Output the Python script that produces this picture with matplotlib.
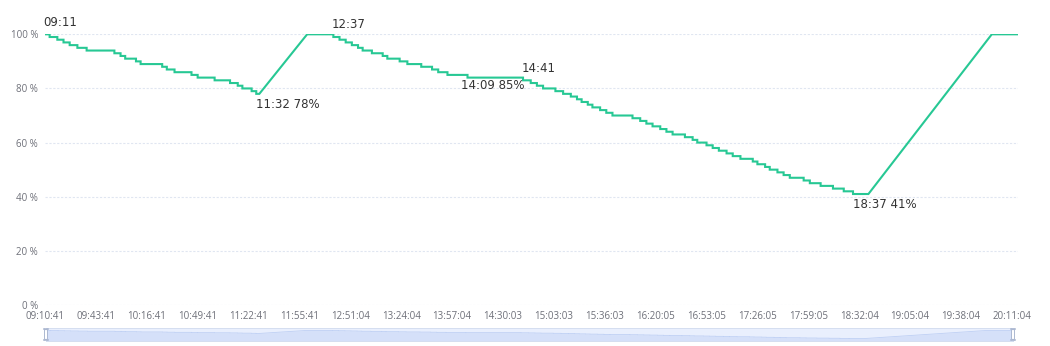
import matplotlib
matplotlib.use('Agg')
import matplotlib.pyplot as plt
from matplotlib.patches import FancyBboxPatch
import numpy as np

# x axis is a category axis: one sample per category, a label every 33 samples
TICK_LABELS = ['09:10:41', '09:43:41', '10:16:41', '10:49:41', '11:22:41', '11:55:41',
               '12:51:04', '13:24:04', '13:57:04', '14:30:03', '15:03:03', '15:36:03',
               '16:20:05', '16:53:05', '17:26:05', '17:59:05', '18:32:04', '19:05:04',
               '19:38:04', '20:11:04']
TICK_STEP = 33
N_SAMPLES = 632

# sample index where a battery level starts, and the level (%)
START = [0, 3, 8, 12, 16, 21, 27, 45, 49, 52, 59, 62, 76, 79, 84, 95, 99, 110, 120, 125,
         128, 134, 137, 139, 170,
         187, 191, 195, 199, 203, 206, 212, 219, 222, 230, 235, 244, 251, 255, 261, 274,
         310, 315, 319, 323, 331, 336, 341, 345, 348, 352, 355, 360, 364, 368,
         381, 386, 390, 394, 399, 403,
         407, 415, 420, 423, 429, 433, 437, 442, 446, 451, 459, 462, 467, 470, 475, 479,
         483, 492, 496, 503, 511, 518, 524, 534, 614, 631]
LEVEL = [100, 99, 98, 97, 96, 95, 94, 93, 92, 91, 90, 89, 88, 87, 86, 85, 84, 83, 82, 81,
         80, 79, 78, 78, 100,
         99, 98, 97, 96, 95, 94, 93, 92, 91, 90, 89, 88, 87, 86, 85, 84,
         83, 82, 81, 80, 79, 78, 77, 76, 75, 74, 73, 72, 71, 70,
         69, 68, 67, 66, 65, 64,
         63, 62, 61, 60, 59, 58, 57, 56, 55, 54, 53, 52, 51, 50, 49, 48,
         47, 46, 45, 44, 43, 42, 41, 41, 100, 100]

PEAK_LABELS = ['09:11', '12:37', '14:41']
PEAK_AT = [0, 187, 310]
LOW_LABELS = ['11:32 78%', '14:09 85%', '18:37 41%']
LOW_AT = [137, 270, 524]

LINE_COLOR = '#27c894'

# drops are drawn as steps, charging as straight ramps
xs, ys = [START[0]], [LEVEL[0]]
for i in range(1, len(START)):
    if LEVEL[i] < LEVEL[i - 1]:
        xs.append(START[i])
        ys.append(LEVEL[i - 1])
    xs.append(START[i])
    ys.append(LEVEL[i])
xs = np.array(xs, dtype=float)
ys = np.array(ys, dtype=float)


def level_at(idx):
    k = np.searchsorted(START, idx, side='right') - 1
    return LEVEL[k]


W, H = 1050, 346
fig = plt.figure(figsize=(W / 100, H / 100), dpi=100)
ax = fig.add_axes([45 / W, 1 - 305 / H, (1018 - 45) / W, (305 - 34.3) / H])

ax.plot(xs, ys, color=LINE_COLOR, lw=1.5, solid_joinstyle='miter', zorder=3)

ax.set_xlim(0, N_SAMPLES - 1)
ax.set_ylim(0, 100)
ax.set_yticks(range(0, 101, 20))
ax.set_yticklabels([f'{v} %' for v in range(0, 101, 20)])
ax.set_xticks(range(0, TICK_STEP * len(TICK_LABELS), TICK_STEP))
ax.set_xticklabels(TICK_LABELS)
for sp in ax.spines.values():
    sp.set_visible(False)
ax.grid(axis='y', color='#E0E6F1', linestyle=(0, (2, 1.5)), lw=0.8)
ax.tick_params(length=0, labelsize=7, labelcolor='#6E7079')
ax.tick_params(axis='x', pad=4.5)
ax.tick_params(axis='y', pad=5)
for lab in ax.get_xticklabels() + ax.get_yticklabels():
    lab.set_fontfamily('Open Sans')

for txt, idx in zip(PEAK_LABELS, PEAK_AT):
    ax.annotate(txt, (idx, level_at(idx)), xytext=(-1, 4), textcoords='offset points',
                ha='left', va='bottom', fontsize=8.5, color='#333333')
for txt, idx in zip(LOW_LABELS, LOW_AT):
    ax.annotate(txt, (idx, level_at(idx)), xytext=(0, -3), textcoords='offset points',
                ha='left', va='top', fontsize=8.5, color='#333333')

# data zoom slider
sl = fig.add_axes([46 / W, 1 - 341 / H, (1013 - 46) / W, 13 / H])
sl.set_xlim(0, N_SAMPLES - 1)
lo, hi = min(LEVEL), max(LEVEL)
off = (hi - lo) * 0.3
sl.set_ylim(lo - off, hi + off)
sl.set_facecolor('#e9effd')
sl.fill_between(xs, lo - off, ys, color='#d5e0f9', lw=0)
sl.plot(xs, ys, color='#bfd0f4', lw=0.6)
for sp in sl.spines.values():
    sp.set_color('#d2dbee')
    sp.set_linewidth(0.6)
sl.set_xticks([])
sl.set_yticks([])
for hx in (46, 1013):
    h = FancyBboxPatch(((hx - 1.5) / W, (346 - 340) / H), 3 / W, 11 / H,
                       boxstyle='round,pad=0,rounding_size=0.004',
                       transform=fig.transFigure, facecolor='white',
                       edgecolor='#ACB8D1', lw=0.7, zorder=5)
    fig.patches.append(h)

fig.savefig('out.png', dpi=100)
